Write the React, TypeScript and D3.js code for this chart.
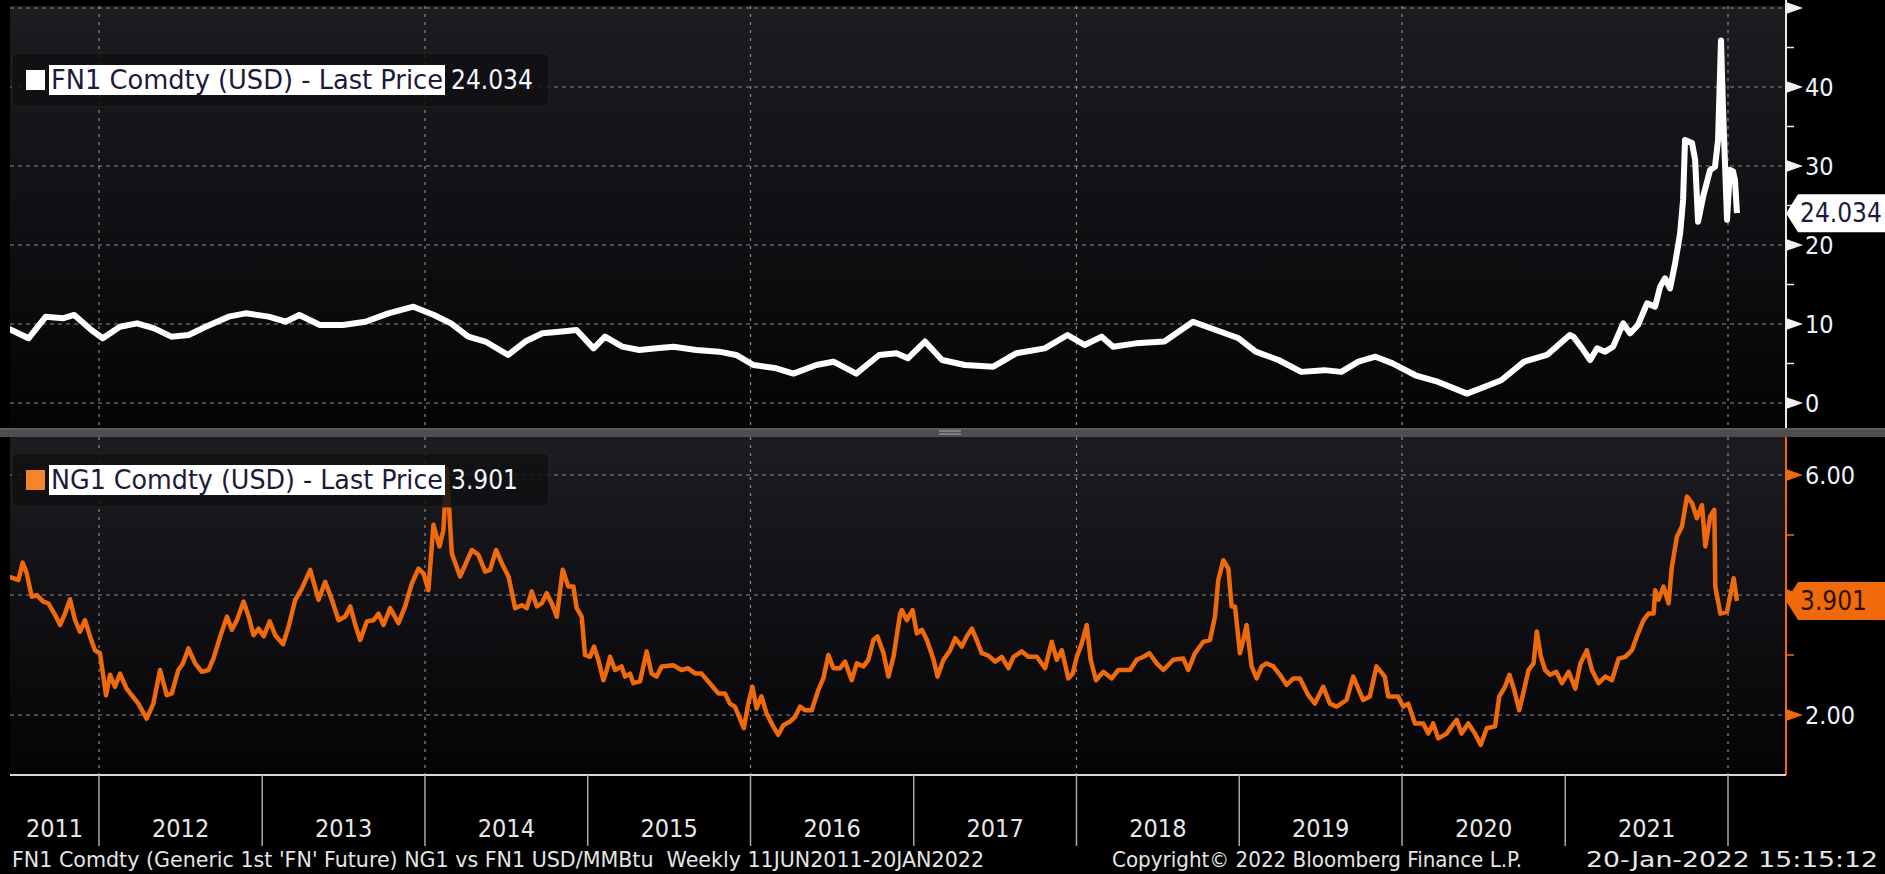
import * as d3 from 'd3';
import * as React from 'react';

const width = 1885;
const height = 874;
const font = "'DejaVu Sans Condensed', 'DejaVu Sans', sans-serif";

// FN1 Comdty weekly, decimal years / USD per MMBtu
const fnYears = [
  2011.44, 2011.567, 2011.673, 2011.778, 2011.848, 2011.953, 2012.023, 2012.128, 2012.233, 2012.338,
  2012.443, 2012.549, 2012.654, 2012.794, 2012.899, 2013.039, 2013.144, 2013.228, 2013.354, 2013.495,
  2013.635, 2013.775, 2013.929, 2014.055, 2014.16, 2014.266, 2014.371, 2014.511, 2014.616, 2014.721,
  2014.826, 2014.931, 2015.036, 2015.106, 2015.212, 2015.317, 2015.422, 2015.527, 2015.667, 2015.807,
  2015.912, 2016.018, 2016.158, 2016.263, 2016.403, 2016.508, 2016.648, 2016.788, 2016.894, 2016.964,
  2017.069, 2017.174, 2017.314, 2017.489, 2017.629, 2017.805, 2017.945, 2018.05, 2018.155, 2018.225,
  2018.365, 2018.54, 2018.716, 2018.856, 2018.996, 2019.101, 2019.241, 2019.381, 2019.522, 2019.627,
  2019.732, 2019.837, 2019.942, 2020.082, 2020.222, 2020.398, 2020.503, 2020.608, 2020.748, 2020.888,
  2021.028, 2021.05, 2021.104, 2021.153, 2021.196, 2021.245, 2021.294, 2021.356, 2021.398, 2021.447,
  2021.503, 2021.552, 2021.583, 2021.613, 2021.644, 2021.675, 2021.706, 2021.724, 2021.736, 2021.779,
  2021.798, 2021.816, 2021.847, 2021.89, 2021.92, 2021.939, 2021.957, 2021.969, 2021.994, 2022.012,
  2022.031, 2022.043, 2022.055,
];
const fnValues = [
  9.45, 8.19, 10.93, 10.72, 11.14, 9.24, 8.19, 9.66, 10.08, 9.45,
  8.4, 8.61, 9.66, 10.93, 11.35, 10.93, 10.29, 11.14, 9.87, 9.87,
  10.29, 11.35, 12.19, 11.14, 10.08, 8.4, 7.78, 6.08, 7.78, 8.82,
  9.03, 9.24, 6.92, 8.4, 7.13, 6.71, 6.92, 7.13, 6.71, 6.5,
  6.08, 4.81, 4.39, 3.72, 4.81, 5.23, 3.72, 6.08, 6.29, 5.65,
  7.78, 5.44, 4.81, 4.6, 6.29, 6.92, 8.61, 7.34, 8.4, 7.13,
  7.55, 7.78, 10.29, 9.24, 8.19, 6.5, 5.44, 3.94, 4.16, 3.94,
  5.23, 5.86, 5.02, 3.51, 2.67, 1.19, 2.03, 2.88, 5.23, 6.08,
  8.61, 8.4, 6.92, 5.44, 6.92, 6.5, 7.13, 10.08, 8.82, 9.87,
  12.62, 12.19, 14.72, 15.78, 14.5, 17.68, 21.48, 25.7, 33.3, 32.9,
  30.8, 22.95, 26.1, 29.5, 29.9, 33.3, 45.9, 37.5, 23.2, 29.5,
  29.3, 28.2, 24.034,
];

// NG1 Comdty weekly
const ngYears = [
  2011.44, 2011.505, 2011.531, 2011.556, 2011.587, 2011.618, 2011.658, 2011.689, 2011.73, 2011.761,
  2011.791, 2011.822, 2011.853, 2011.883, 2011.914, 2011.945, 2011.975, 2012.006, 2012.043, 2012.068,
  2012.098, 2012.129, 2012.169, 2012.2, 2012.241, 2012.292, 2012.333, 2012.374, 2012.415, 2012.446,
  2012.486, 2012.513, 2012.548, 2012.589, 2012.63, 2012.671, 2012.701, 2012.743, 2012.784, 2012.814,
  2012.845, 2012.886, 2012.917, 2012.947, 2012.978, 2013.009, 2013.046, 2013.08, 2013.128, 2013.162,
  2013.203, 2013.244, 2013.295, 2013.346, 2013.387, 2013.428, 2013.469, 2013.51, 2013.541, 2013.572,
  2013.602, 2013.643, 2013.684, 2013.715, 2013.745, 2013.786, 2013.837, 2013.878, 2013.919, 2013.96,
  2013.991, 2014.021, 2014.052, 2014.089, 2014.113, 2014.134,
  2014.165, 2014.216, 2014.247, 2014.288, 2014.328, 2014.37, 2014.4, 2014.437, 2014.472, 2014.513,
  2014.554, 2014.595, 2014.625, 2014.656, 2014.687, 2014.717, 2014.748, 2014.779, 2014.81, 2014.846,
  2014.881, 2014.912, 2014.932, 2014.963, 2014.983, 2015.014, 2015.039, 2015.065, 2015.096, 2015.117,
  2015.137, 2015.168, 2015.208, 2015.229, 2015.26, 2015.28, 2015.321, 2015.362, 2015.392, 2015.423,
  2015.454, 2015.525, 2015.576, 2015.617, 2015.659, 2015.699, 2015.75, 2015.802, 2015.843, 2015.873,
  2015.904, 2015.935, 2015.959, 2015.986, 2016.012, 2016.037, 2016.067, 2016.098, 2016.139, 2016.17,
  2016.201, 2016.242, 2016.273, 2016.303, 2016.334, 2016.375, 2016.416, 2016.446, 2016.477, 2016.508,
  2016.549, 2016.579, 2016.62, 2016.651, 2016.692, 2016.722, 2016.753, 2016.778, 2016.815, 2016.845,
  2016.876, 2016.917,
  2016.927, 2016.958, 2016.993, 2017.019, 2017.05, 2017.081, 2017.122, 2017.146, 2017.183, 2017.224,
  2017.255, 2017.295, 2017.326, 2017.357, 2017.387, 2017.418, 2017.459, 2017.5, 2017.541, 2017.582,
  2017.613, 2017.664, 2017.705, 2017.756, 2017.807, 2017.848, 2017.879, 2017.91, 2017.95, 2017.977,
  2018.002, 2018.032, 2018.063, 2018.087, 2018.12, 2018.165, 2018.216, 2018.257, 2018.329, 2018.37,
  2018.411, 2018.448, 2018.493, 2018.534, 2018.595, 2018.656, 2018.687, 2018.728, 2018.779, 2018.82,
  2018.851, 2018.871, 2018.902, 2018.933, 2018.953, 2018.974, 2019.004, 2019.025, 2019.045, 2019.076,
  2019.107, 2019.138, 2019.168, 2019.209, 2019.25, 2019.291, 2019.332, 2019.373, 2019.424, 2019.465,
  2019.516, 2019.557, 2019.598,
  2019.659, 2019.7, 2019.731, 2019.761, 2019.802, 2019.843, 2019.894, 2019.915, 2019.976, 2020.007,
  2020.038, 2020.079, 2020.13, 2020.161, 2020.191, 2020.222, 2020.273, 2020.304, 2020.335, 2020.365,
  2020.406, 2020.447, 2020.482, 2020.519, 2020.57, 2020.596, 2020.631, 2020.658, 2020.687, 2020.718,
  2020.748, 2020.775, 2020.806, 2020.826, 2020.851, 2020.877, 2020.908, 2020.945, 2020.98, 2021.021,
  2021.062, 2021.093, 2021.133, 2021.164, 2021.205, 2021.246, 2021.287, 2021.328, 2021.369, 2021.41,
  2021.44, 2021.481, 2021.512, 2021.543, 2021.553, 2021.573, 2021.604, 2021.635, 2021.655, 2021.686,
  2021.717, 2021.748, 2021.779, 2021.809, 2021.84, 2021.861, 2021.891, 2021.916, 2021.922, 2021.953,
  2021.994, 2022.035, 2022.055,
];
const ngValues = [
  4.31, 4.25, 4.54, 4.36, 3.97, 4.0, 3.89, 3.86, 3.67, 3.5,
  3.69, 3.93, 3.58, 3.39, 3.58, 3.31, 3.08, 3.03, 2.33, 2.67,
  2.47, 2.69, 2.44, 2.33, 2.19, 1.94, 2.19, 2.75, 2.33, 2.36,
  2.75, 2.85, 3.11, 2.86, 2.72, 2.75, 2.94, 3.31, 3.64, 3.42,
  3.58, 3.89, 3.64, 3.33, 3.44, 3.31, 3.56, 3.33, 3.18, 3.47,
  3.92, 4.11, 4.42, 3.92, 4.22, 3.92, 3.58, 3.64, 3.81, 3.5,
  3.25, 3.56, 3.58, 3.69, 3.5, 3.78, 3.53, 3.81, 4.19, 4.44,
  4.36, 4.08, 5.17, 4.81, 5.08, 6.1,
  4.69, 4.31, 4.5, 4.75, 4.67, 4.39, 4.42, 4.75, 4.53, 4.31,
  3.78, 3.83, 3.78, 4.06, 3.81, 3.86, 4.03, 3.86, 3.64, 4.42,
  4.14, 4.14, 3.78, 3.64, 3.0, 2.97, 3.14, 2.92, 2.58, 2.75,
  2.97, 2.75, 2.81, 2.64, 2.69, 2.53, 2.56, 3.06, 2.69, 2.64,
  2.81, 2.83, 2.75, 2.78, 2.69, 2.69, 2.53, 2.36, 2.36, 2.19,
  2.14, 1.94, 1.78, 2.19, 2.47, 2.11, 2.31, 2.03, 1.81, 1.67,
  1.83, 1.89, 1.97, 2.14, 2.08, 2.08, 2.42, 2.61, 3.0, 2.78,
  2.78, 2.89, 2.58, 2.86, 2.81, 2.92, 3.25, 3.31, 3.03, 2.64,
  2.97, 3.69,
  3.75, 3.58, 3.75, 3.36, 3.42, 3.25, 2.92, 2.64, 2.92, 3.08,
  3.28, 3.14, 3.31, 3.44, 3.25, 3.03, 2.99, 2.89, 2.97, 2.78,
  2.97, 3.06, 2.97, 2.97, 2.78, 3.22, 2.92, 3.08, 2.61, 2.69,
  2.97, 3.19, 3.5, 2.92, 2.58, 2.72, 2.61, 2.75, 2.75, 2.92,
  2.97, 3.03, 2.86, 2.75, 2.92, 2.94, 2.75, 3.03, 3.22, 3.25,
  3.64, 4.25, 4.58, 4.44, 3.81, 3.81, 3.03, 3.25, 3.5, 2.81,
  2.61, 2.81, 2.86, 2.81, 2.67, 2.5, 2.61, 2.61, 2.33, 2.19,
  2.47, 2.19, 2.14,
  2.25, 2.64, 2.44, 2.25, 2.31, 2.81, 2.64, 2.31, 2.31, 2.14,
  2.19, 1.86, 1.86, 1.69, 1.86, 1.61, 1.69, 1.81, 1.92, 1.69,
  1.86, 1.69, 1.5, 1.78, 1.81, 2.31, 2.47, 2.67, 2.42, 2.08,
  2.42, 2.75, 2.86, 3.39, 2.97, 2.75, 2.67, 2.72, 2.53, 2.72,
  2.44, 2.86, 3.08, 2.75, 2.53, 2.64, 2.58, 2.94, 2.97, 3.08,
  3.31, 3.58, 3.69, 3.69, 4.08, 3.92, 4.14, 3.86, 4.47, 4.97,
  5.14, 5.64, 5.53, 5.28, 5.5, 4.81, 5.31, 5.42, 4.14, 3.69,
  3.72, 4.28, 3.901,
];

const yearLabels = ['2011', '2012', '2013', '2014', '2015', '2016', '2017', '2018', '2019', '2020', '2021'];
const fnTicks = [0, 10, 20, 30, 40, 50];
const fnMinor = [5, 15, 25, 35, 45];
const ngTicks = [2, 4, 6];
const ngMinor = [3, 5];

const fnLast = '24.034';
const ngLast = '3.901';
const footerLeft = "FN1 Comdty (Generic 1st 'FN' Future) NG1 vs FN1 USD/MMBtu  Weekly 11JUN2011-20JAN2022";
const footerMid = 'Copyright\u00a9 2022 Bloomberg Finance L.P.';
const footerRight = '20-Jan-2022 15:15:12';

const plotLeft = 10;
const plotRight = 1786;
const topPanel = { top: 6, bottom: 428 };
const botPanel = { top: 437, bottom: 775 };
const orange = '#f06a0c';

const toDate = (y: number) => {
  const yr = Math.floor(y);
  const a = Date.UTC(yr, 0, 1);
  const b = Date.UTC(yr + 1, 0, 1);
  return new Date(a + (y - yr) * (b - a));
};

const x = d3
  .scaleUtc()
  .domain([new Date(Date.UTC(2012, 0, 1)), new Date(Date.UTC(2022, 0, 1))])
  .range([99, 1728]);
const yTop = d3.scaleLinear().domain([0, 40]).range([403, 87]);
const yBot = d3.scaleLinear().domain([2, 6]).range([715, 475]);

const fnData = fnYears.map((t, i) => ({ d: toDate(t), v: fnValues[i] }));
const ngData = ngYears.map((t, i) => ({ d: toDate(t), v: ngValues[i] }));

const yearBounds = d3.range(2012, 2023).map(y => new Date(Date.UTC(y, 0, 1)));
const evenBounds = yearBounds.filter(d => d.getUTCFullYear() % 2 === 0);

function Legend({ y, label, value, swatch }: { y: number; label: string; value: string; swatch: string }) {
  return (
    <g>
      <rect x={12} y={y} width={537} height={54} rx={6} fill="rgba(16,16,19,0.85)" stroke="#242424" />
      <rect x={26} y={y + 17} width={19} height={20} fill={swatch} />
      <rect x={49} y={y + 12} width={396} height={30} fill="#fff" />
      <text
        x={51}
        y={y + 36}
        fontSize={26}
        fill="#1c1a3a"
        fontFamily={font}
        textLength={392}
        lengthAdjust="spacingAndGlyphs"
      >
        {label}
      </text>
      <text x={451} y={y + 36} fontSize={26} fill="#f4f6ff" fontFamily={font}>
        {value}
      </text>
    </g>
  );
}

function ValueTag({ cy, text, fill, color }: { cy: number; text: string; fill: string; color: string }) {
  const h = 38;
  const p = `M${plotRight},${cy} L${plotRight + 12},${cy - h / 2} L${width},${cy - h / 2} L${width},${cy + h / 2} L${plotRight + 12},${cy + h / 2} Z`;
  return (
    <g>
      <path d={p} fill={fill} />
      <text x={plotRight + 14} y={cy + 9} fontSize={26} fill={color} fontFamily={font}>
        {text}
      </text>
    </g>
  );
}

export default function App() {
  const fnLine = d3
    .line<{ d: Date; v: number }>()
    .x(p => x(p.d))
    .y(p => yTop(p.v));
  const ngLine = d3
    .line<{ d: Date; v: number }>()
    .x(p => x(p.d))
    .y(p => yBot(p.v));

  const tri = (y: number) => `M${plotRight},${y - 6} L${plotRight + 17},${y} L${plotRight},${y + 6} Z`;

  const labelCenters = yearLabels.map((_, i) => {
    const a = i === 0 ? plotLeft : x(yearBounds[i - 1]);
    const b = x(yearBounds[i]);
    return (a + b) / 2;
  });

  // the 4.00 label sits under the last-price tag, as in the terminal
  const ngLabelTicks = ngTicks.filter(t => Math.abs(yBot(t) - yBot(+ngLast)) > 25);

  return (
    <svg
      width={width}
      height={height}
      style={{ position: 'absolute', left: 0, top: 0, display: 'block', background: '#000' }}
    >
      <defs>
        <linearGradient id="panelBg" x1="0" x2="0" y1="0" y2="1">
          <stop offset="0" stopColor="#1d1d21" />
          <stop offset="1" stopColor="#040407" />
        </linearGradient>
        <clipPath id="clipTop">
          <rect x={plotLeft} y={topPanel.top} width={plotRight - plotLeft} height={topPanel.bottom - topPanel.top} />
        </clipPath>
        <clipPath id="clipBot">
          <rect x={plotLeft} y={botPanel.top} width={plotRight - plotLeft} height={botPanel.bottom - botPanel.top} />
        </clipPath>
      </defs>
      <rect width={width} height={height} fill="#000" />

      {/* panels */}
      <rect x={plotLeft} y={topPanel.top} width={plotRight - plotLeft} height={topPanel.bottom - topPanel.top} fill="url(#panelBg)" />
      <rect x={plotLeft} y={botPanel.top} width={plotRight - plotLeft} height={botPanel.bottom - botPanel.top} fill="url(#panelBg)" />

      {/* grid */}
      <g stroke="#8a8a8a" strokeWidth={1.2} strokeDasharray="4,4">
        {fnTicks.map(t => (
          <line key={'gt' + t} x1={plotLeft} x2={plotRight} y1={yTop(t)} y2={yTop(t)} />
        ))}
        {ngTicks.map(t => (
          <line key={'gb' + t} x1={plotLeft} x2={plotRight} y1={yBot(t)} y2={yBot(t)} />
        ))}
      </g>
      <g stroke="#8a8a8a" strokeWidth={1.2} strokeDasharray="3,5">
        {evenBounds.map(d => (
          <g key={'v' + d.getTime()}>
            <line x1={x(d)} x2={x(d)} y1={topPanel.top} y2={topPanel.bottom} />
            <line x1={x(d)} x2={x(d)} y1={botPanel.top} y2={botPanel.bottom} />
          </g>
        ))}
      </g>

      {/* series */}
      <path
        d={fnLine(fnData) || ''}
        fill="none"
        stroke="#fff"
        strokeWidth={6}
        strokeLinejoin="round"
        clipPath="url(#clipTop)"
      />
      <path
        d={ngLine(ngData) || ''}
        fill="none"
        stroke={orange}
        strokeWidth={4.5}
        strokeLinejoin="round"
        clipPath="url(#clipBot)"
      />

      {/* separator */}
      <rect x={0} y={topPanel.bottom} width={width} height={botPanel.top - topPanel.bottom} fill="#4e4e4e" />
      <line x1={0} x2={width} y1={topPanel.bottom + 1} y2={topPanel.bottom + 1} stroke="#6a6a6a" />
      <g stroke="#b0b0b0" strokeWidth={1}>
        <line x1={939} x2={961} y1={431} y2={431} />
        <line x1={939} x2={961} y1={434} y2={434} />
      </g>

      {/* right axes */}
      <line x1={plotRight} x2={plotRight} y1={0} y2={topPanel.bottom} stroke="#e8e8e8" strokeWidth={2} />
      {fnTicks.map(t => (
        <path key={'ta' + t} d={tri(yTop(t))} fill="#f2f2f2" />
      ))}
      {fnMinor.map(t => (
        <line key={'tm' + t} x1={plotRight} x2={plotRight + 8} y1={yTop(t)} y2={yTop(t)} stroke="#e8e8e8" strokeWidth={1.5} />
      ))}
      {fnTicks
        .filter(t => t < 50)
        .map(t => (
          <text key={'tl' + t} x={plotRight + 19} y={yTop(t) + 9} fontSize={25} fill="#eef3ff" fontFamily={font}>
            {t}
          </text>
        ))}

      <line x1={plotRight} x2={plotRight} y1={botPanel.top} y2={botPanel.bottom} stroke={orange} strokeWidth={2} />
      {ngTicks.map(t => (
        <path key={'ba' + t} d={tri(yBot(t))} fill={orange} />
      ))}
      {ngMinor.map(t => (
        <line key={'bm' + t} x1={plotRight} x2={plotRight + 8} y1={yBot(t)} y2={yBot(t)} stroke={orange} strokeWidth={1.5} />
      ))}
      {ngLabelTicks.map(t => (
        <text key={'bl' + t} x={plotRight + 19} y={yBot(t) + 9} fontSize={25} fill="#eef3ff" fontFamily={font}>
          {t.toFixed(2)}
        </text>
      ))}

      <ValueTag cy={yTop(+fnLast)} text={fnLast} fill="#fff" color="#1c1a3a" />
      <ValueTag cy={yBot(+ngLast)} text={ngLast} fill={orange} color="#2a1200" />

      {/* legends */}
      <Legend y={53} label="FN1 Comdty (USD) - Last Price" value={fnLast} swatch="#fff" />
      <Legend y={453} label="NG1 Comdty (USD) - Last Price" value={ngLast} swatch="#f7842c" />

      {/* x axis */}
      <line x1={plotLeft} x2={plotRight} y1={botPanel.bottom} y2={botPanel.bottom} stroke="#d8d8d8" strokeWidth={2} />
      <g stroke="#a8a8a8" strokeWidth={1.5}>
        {yearBounds.map(d => (
          <line key={'xt' + d.getTime()} x1={x(d)} x2={x(d)} y1={botPanel.bottom} y2={846} />
        ))}
      </g>
      {yearLabels.map((l, i) => (
        <text key={l} x={labelCenters[i]} y={837} fontSize={25} fill="#e6e6e6" textAnchor="middle" fontFamily={font}>
          {l}
        </text>
      ))}

      {/* footer */}
      <text
        x={12}
        y={867}
        fontSize={22}
        fill="#e4e4e4"
        fontFamily={font}
        xmlSpace="preserve"
        textLength={972}
        lengthAdjust="spacingAndGlyphs"
      >
        {footerLeft}
      </text>
      <text x={1112} y={867} fontSize={22} fill="#e4e4e4" fontFamily={font} textLength={410} lengthAdjust="spacingAndGlyphs">
        {footerMid}
      </text>
      <text x={1586} y={867} fontSize={22} fill="#e4e4e4" fontFamily={font} textLength={292} lengthAdjust="spacingAndGlyphs">
        {footerRight}
      </text>
    </svg>
  );
}
